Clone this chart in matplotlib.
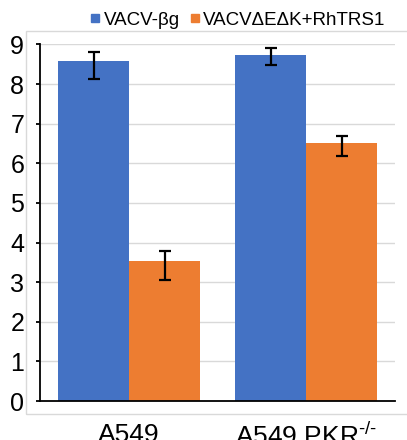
import matplotlib
matplotlib.use("Agg")
import matplotlib.pyplot as plt
import numpy as np
from matplotlib.patches import Rectangle
from matplotlib.lines import Line2D

plt.rcParams['font.family'] = ['Liberation Sans', 'DejaVu Sans']
plt.rcParams['mathtext.fontset'] = 'custom'
plt.rcParams['mathtext.rm'] = 'Liberation Sans'
plt.rcParams['mathtext.it'] = 'Liberation Sans'

cells = ["A549", "A549 PKR$^{\u2010/\u2010}$"]
series = ["VACV-βg", "VACVΔEΔK+RhTRS1"]
blue_vals = [8.58, 8.73]
blue_err_lo = [0.44, 0.26]
blue_err_hi = [0.23, 0.17]
orange_vals = [3.54, 6.51]
orange_err_lo = [0.49, 0.32]
orange_err_hi = [0.24, 0.19]
colors = ["#4472C4", "#ED7D31"]

fig = plt.figure(figsize=(4.07, 4.40), dpi=100)
ax = fig.add_axes([0.0995, 0.0886, 0.8710, 0.8103])

# chart area frame
fig.patches.append(Rectangle((0.0639, 0.0591), 0.95, 0.871, transform=fig.transFigure,
                             fill=False, edgecolor="#d9d9d9", linewidth=1.0))

x = np.arange(len(cells))
w = 0.4
ax.bar(x - w / 2, blue_vals, w, color=colors[0], zorder=2)
ax.bar(x + w / 2, orange_vals, w, color=colors[1], zorder=2)
ax.errorbar(x - w / 2, blue_vals, yerr=[blue_err_lo, blue_err_hi], fmt="none",
            ecolor="black", elinewidth=1.6, capsize=4, capthick=1.6, zorder=3)
ax.errorbar(x + w / 2, orange_vals, yerr=[orange_err_lo, orange_err_hi], fmt="none",
            ecolor="black", elinewidth=1.6, capsize=4, capthick=1.6, zorder=3)

ax.set_xlim(-0.5, 1.5)
ax.set_ylim(0, 9)
ax.set_yticks(range(0, 10))
ax.set_xticks(x)
ax.set_xticklabels(cells)
ax.yaxis.grid(True, color="#d9d9d9", linewidth=1.0, zorder=0)
ax.set_axisbelow(True)

for s in ["top", "right"]:
    ax.spines[s].set_visible(False)
for s in ["left", "bottom"]:
    ax.spines[s].set_color("black")
    ax.spines[s].set_linewidth(1.3)

ax.tick_params(axis="y", length=3.2, width=1.3, pad=8.5, labelsize=18)
ax.tick_params(axis="x", length=0, pad=16, labelsize=19)

handles = [Line2D([], [], marker="s", linestyle="none", markersize=5.5, color=c) for c in colors]
fig.legend(handles, series, loc="center", bbox_to_anchor=(0.584, 0.954), ncol=2,
           frameon=False, fontsize=13.5, handlelength=0.6, handletextpad=0.15,
           columnspacing=0.5, borderaxespad=0)

fig.savefig("out.png", dpi=100)
